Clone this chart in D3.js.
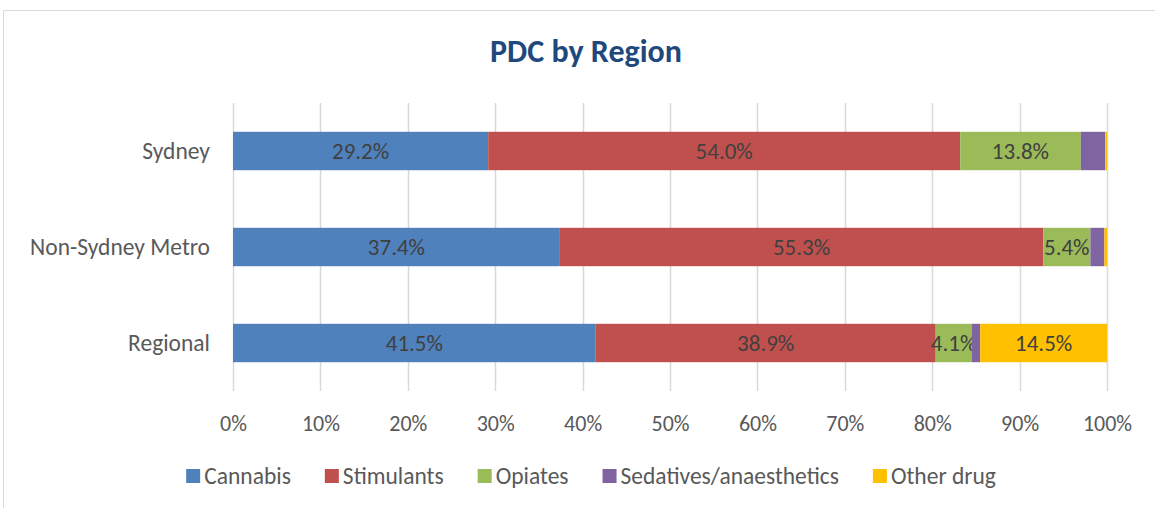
<!DOCTYPE html>
<html>
<head>
<meta charset="utf-8">
<script src="https://cdn.jsdelivr.net/npm/d3@7"></script>
<style>
  body { margin: 0; background: #fff; }
  svg { font-family: Calibri, Carlito, Lato, "Open Sans", sans-serif; }
</style>
</head>
<body>
<script>
// regions top to bottom
const regions = ["Sydney", "Non-Sydney Metro", "Regional"];
const drugs = ["Cannabis", "Stimulants", "Opiates", "Sedatives/anaesthetics", "Other drug"];
const cannabis = [29.2, 37.4, 41.5];
const stimulants = [54.0, 55.3, 38.9];
const opiates = [13.8, 5.4, 4.1];
const sedatives = [2.8, 1.6, 1.0];
const otherDrug = [0.2, 0.3, 14.5];
const ticks = [0, 10, 20, 30, 40, 50, 60, 70, 80, 90, 100];

const colors = ["#4F81BD", "#C0504D", "#9BBB59", "#8064A2", "#FFC000"];

const W = 1155, H = 508;
const plot = {top: 103, bottom: 391, left: 233, right: 1107};

const rows = regions.map((r, i) => ({
  region: r,
  "Cannabis": cannabis[i],
  "Stimulants": stimulants[i],
  "Opiates": opiates[i],
  "Sedatives/anaesthetics": sedatives[i],
  "Other drug": otherDrug[i]
}));

const svg = d3.select("body").append("svg")
  .attr("width", W)
  .attr("height", H);

// chart frame
svg.append("rect")
  .attr("x", 3.5).attr("y", 10.5)
  .attr("width", W + 10).attr("height", H)
  .attr("fill", "#fff")
  .attr("stroke", "#D9D9D9");

svg.append("text")
  .attr("x", 586).attr("y", 62)
  .attr("text-anchor", "middle")
  .attr("font-size", 32)
  .attr("font-weight", "bold")
  .attr("fill", "#1F497D")
  .text("PDC by Region");

const x = d3.scaleLinear().domain([0, 100]).range([plot.left, plot.right]);
const y = d3.scaleBand().domain(regions).range([plot.top, plot.bottom]).paddingInner(0.6).paddingOuter(0.3);

// gridlines
svg.append("g")
  .selectAll("line")
  .data(ticks)
  .join("line")
    .attr("x1", d => Math.round(x(d)) + 0.5)
    .attr("x2", d => Math.round(x(d)) + 0.5)
    .attr("y1", plot.top)
    .attr("y2", plot.bottom)
    .attr("stroke", "#D9D9D9")
    .attr("stroke-width", 1.5);

const stack = d3.stack().keys(drugs);
const series = stack(rows);

const g = svg.append("g");
series.forEach((s, k) => {
  g.append("g")
    .attr("fill", colors[k])
    .selectAll("rect")
    .data(s)
    .join("rect")
      .attr("x", d => x(d[0]))
      .attr("width", d => x(d[1]) - x(d[0]))
      .attr("y", d => y(d.data.region))
      .attr("height", y.bandwidth());

  g.append("g")
    .selectAll("text")
    .data(s.filter(d => d[1] - d[0] >= 4))
    .join("text")
      .attr("x", d => (x(d[0]) + x(d[1])) / 2)
      .attr("y", d => y(d.data.region) + y.bandwidth() / 2)
      .attr("dy", "0.36em")
      .attr("text-anchor", "middle")
      .attr("font-size", 23)
      .attr("fill", "#404040")
      .text(d => (d[1] - d[0]).toFixed(1) + "%");
});

// axes
const xAxis = d3.axisBottom(x).tickValues(ticks).tickFormat(d => d + "%").tickSize(0).tickPadding(0);
svg.append("g")
  .attr("transform", `translate(0,423)`)
  .call(xAxis)
  .attr("font-family", null)
  .call(a => a.select(".domain").remove())
  .call(a => a.selectAll("text")
    .attr("font-size", 22)
    .attr("fill", "#595959")
    .attr("dy", "0.36em"));

const yAxis = d3.axisLeft(y).tickSize(0).tickPadding(23);
svg.append("g")
  .attr("transform", `translate(${plot.left},0)`)
  .call(yAxis)
  .attr("font-family", null)
  .call(a => a.select(".domain").remove())
  .call(a => a.selectAll("text")
    .attr("font-size", 23.5)
    .attr("fill", "#595959"));

// legend
const legend = svg.append("g");
let cx = 0;
const gap = 34;
drugs.forEach((d, i) => {
  const it = legend.append("g");
  it.append("rect").attr("x", 0).attr("y", -7).attr("width", 14).attr("height", 14).attr("fill", colors[i]);
  const t = it.append("text").attr("x", 18).attr("y", 0).attr("dy", "0.36em")
    .attr("font-size", 23.5).attr("fill", "#595959").text(d);
  const w = 18 + t.node().getComputedTextLength();
  it.attr("transform", `translate(${cx},476)`);
  cx += w + gap;
});
const total = cx - gap;
legend.attr("transform", `translate(${591 - total / 2},0)`);
</script>
</body>
</html>
